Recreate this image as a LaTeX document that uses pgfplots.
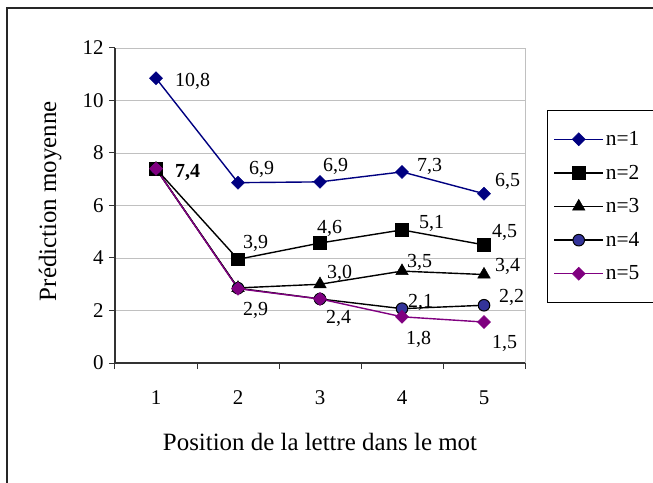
\documentclass[border=0pt]{standalone}
\usepackage{fontspec}
\setmainfont{Liberation Serif}
\usepackage{pgfplots}
\pgfplotsset{compat=1.18}
\definecolor{navy}{HTML}{000080}
\definecolor{purp}{HTML}{800080}
\definecolor{circblue}{HTML}{333399}
\definecolor{gridgray}{HTML}{C0C0C0}
\begin{document}
\begin{tikzpicture}
\path[use as bounding box] (0bp,0bp) rectangle (653bp,483bp);
\draw[line width=1.5bp, black!85] (7bp,-10bp) -- (7bp,475bp) -- (670bp,475bp);
\begin{axis}[
  scale only axis, width=410bp, height=315bp,
  at={(115bp,120bp)}, anchor=south west,
  xmin=0.5, xmax=5.5, ymin=0, ymax=12,
  xtick={0.5,1.5,...,5.5}, x tick label as interval, xticklabels={1,2,3,4,5},
  ytick={0,2,...,12},
  /pgf/number format/assume math mode=true,
  axis lines*=left,
  tick align=outside, major tick length=6bp,
  ymajorgrids, grid style={gridgray, line width=0.9bp},
  axis line style={black!80, line width=1.2bp},
  tick style={black!80, line width=1bp},
  ticklabel style={font=\fontsize{21}{25}\selectfont},
  xticklabel style={yshift=-18bp},
  yticklabel style={xshift=-2bp},
  xlabel={Position de la lettre dans le mot},
  ylabel={Prédiction moyenne},
  label style={font=\fontsize{25}{30}\selectfont},
  xlabel style={at={(axis description cs:0.5,-0.251)}, anchor=center},
  ylabel style={at={(axis description cs:-0.158,0.514)}, anchor=center, rotate=0},
  legend image code/.code={\draw[mark repeat=2,mark phase=2,#1] plot coordinates {(0bp,0bp) (24.5bp,0bp) (49bp,0bp)};},
  legend cell align=left,
  legend style={at={(axis description cs:1.054,0.803)}, anchor=north west,
    draw=black, line width=0.8bp, font=\fontsize{21.5}{25}\selectfont,
    inner xsep=6bp, inner ysep=19bp, row sep=14bp,
    nodes={text width=75bp}},
  every axis plot/.append style={line width=1.4bp},
  clip=false,
]
\addplot[navy, mark=square*, mark size=4.6bp, mark options={rotate=45, fill=navy, draw=navy, line width=0.5bp}]
  coordinates {(1,10.85) (2,6.87) (3,6.9) (4,7.28) (5,6.45)};
\addlegendentry{n=1}
\addplot[black, mark=square*, mark size=6.3bp, mark options={fill=black, line width=0.5bp}]
  coordinates {(1,7.4) (2,3.95) (3,4.57) (4,5.07) (5,4.5)};
\addlegendentry{n=2}
\addplot[black, mark=triangle*, mark size=7.2bp, mark options={fill=black, line width=0.5bp}]
  coordinates {(1,7.4) (2,2.86) (3,3.0) (4,3.5) (5,3.37)};
\addlegendentry{n=3}
\addplot[black, mark=*, mark size=5.8bp, mark options={fill=circblue, draw=black, line width=1bp}]
  coordinates {(1,7.4) (2,2.85) (3,2.44) (4,2.07) (5,2.2)};
\addlegendentry{n=4}
\addplot[purp, mark=square*, mark size=4.6bp, mark options={rotate=45, fill=purp, draw=purp, line width=0.5bp}]
  coordinates {(1,7.4) (2,2.83) (3,2.44) (4,1.76) (5,1.56)};
\addlegendentry{n=5}
\draw[gridgray, line width=1bp] (rel axis cs:1,0) -- (rel axis cs:1,1);
\begin{scope}[every node/.style={anchor=west, inner sep=0pt, font=\fontsize{20}{24}\selectfont}]
\node at (axis cs:1.232,10.74) {10,8};
\node at (axis cs:1.232,7.24) {\textbf{7,4}};
\node at (axis cs:2.134,7.39) {6,9};
\node at (axis cs:3.037,7.47) {6,9};
\node at (axis cs:4.183,7.47) {7,3};
\node at (axis cs:5.134,6.90) {6,5};
\node at (axis cs:2.061,4.57) {3,9};
\node at (axis cs:2.963,5.14) {4,6};
\node at (axis cs:4.207,5.30) {5,1};
\node at (axis cs:5.098,4.99) {4,5};
\node at (axis cs:3.085,3.43) {3,0};
\node at (axis cs:4.061,3.85) {3,5};
\node at (axis cs:5.134,3.66) {3,4};
\node at (axis cs:2.061,2.02) {2,9};
\node at (axis cs:3.073,1.71) {2,4};
\node at (axis cs:4.073,2.32) {2,1};
\node at (axis cs:5.183,2.48) {2,2};
\node at (axis cs:4.049,0.88) {1,8};
\node at (axis cs:5.098,0.76) {1,5};
\end{scope}
\end{axis}
\end{tikzpicture}
\end{document}
